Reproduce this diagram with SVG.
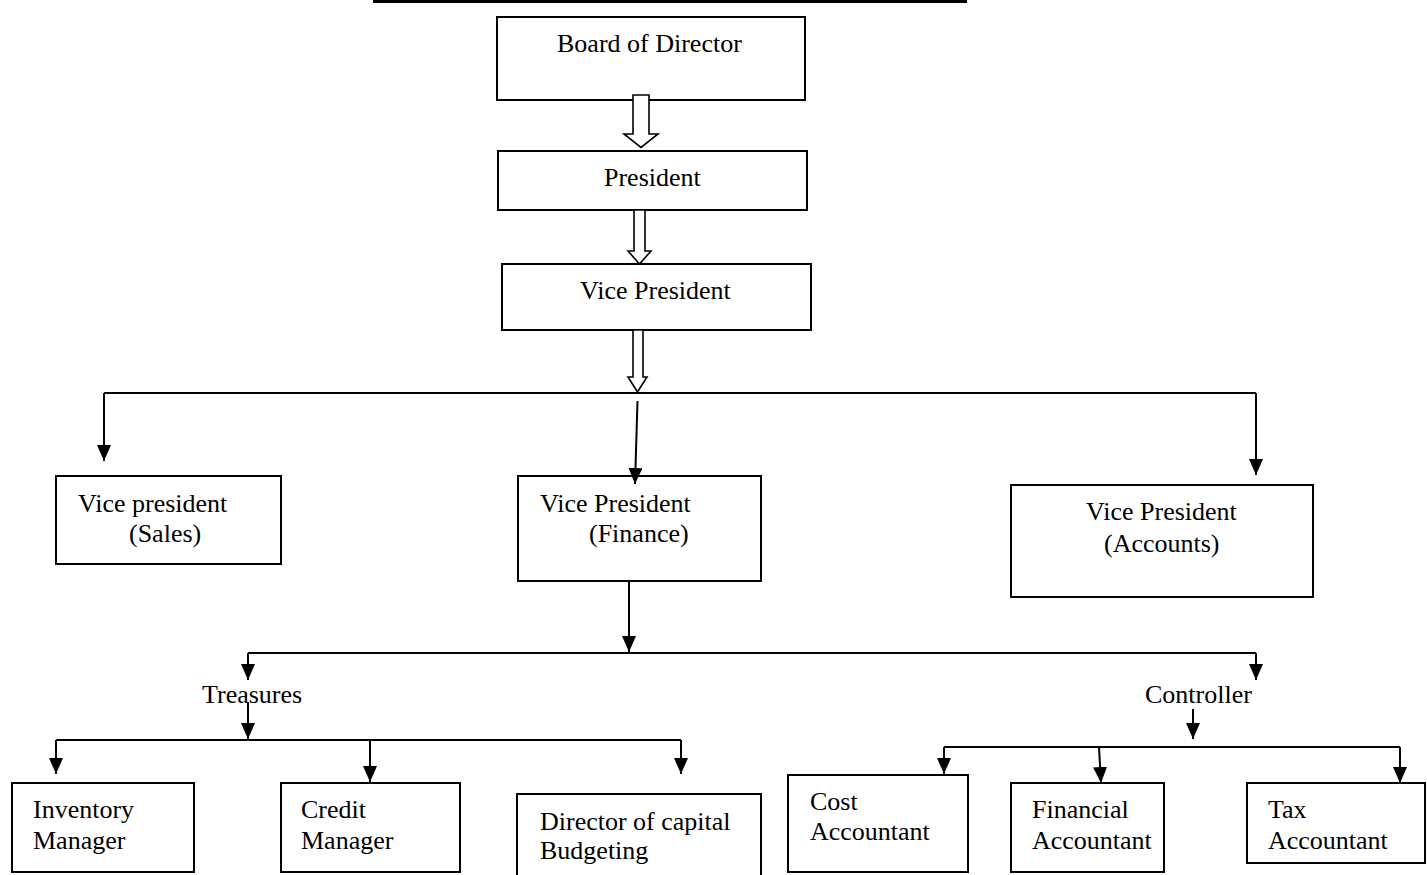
<svg xmlns="http://www.w3.org/2000/svg" width="1427" height="875" viewBox="0 0 1427 875">
<style>
.box{fill:#fff;stroke:#000;stroke-width:2}
.t{font-family:"Liberation Serif","Times New Roman",serif;font-size:26px;fill:#000}
.c{fill:none;stroke:#000;stroke-width:2}
.h{fill:#fff;stroke:#000;stroke-width:1.6;stroke-linejoin:miter}
</style>
<defs>
<marker id="ah" viewBox="0 0 16 14" markerWidth="16" markerHeight="14" refX="16" refY="7" orient="auto" markerUnits="userSpaceOnUse">
<path d="M0,0 L16,7 L0,14 Z" fill="#000"/>
</marker>
</defs>
<rect width="1427" height="875" fill="#fff"/>
<line x1="373" y1="1.5" x2="967" y2="1.5" stroke="#000" stroke-width="3"/>

<g id="board"><rect class="box" x="497" y="17" width="308" height="83"/><text class="t" x="557" y="52">Board of Director</text></g>
<g id="president"><rect class="box" x="498" y="151" width="309" height="59"/><text class="t" x="604" y="186">President</text></g>
<g id="vp"><rect class="box" x="502" y="264" width="309" height="66"/><text class="t" x="580" y="299">Vice President</text></g>
<g id="vp-sales"><rect class="box" x="56" y="476" width="225" height="88"/><text class="t" x="78" y="512">Vice president</text><text class="t" x="129" y="542">(Sales)</text></g>
<g id="vp-finance"><rect class="box" x="518" y="476" width="243" height="105"/><text class="t" x="540" y="512">Vice President</text><text class="t" x="589" y="542">(Finance)</text></g>
<g id="vp-accounts"><rect class="box" x="1011" y="485" width="302" height="112"/><text class="t" x="1086" y="520">Vice President</text><text class="t" x="1104" y="552">(Accounts)</text></g>
<g id="treasures"><text class="t" x="202" y="703">Treasures</text></g>
<g id="controller"><text class="t" x="1145" y="703">Controller</text></g>
<g id="inventory"><rect class="box" x="12" y="783" width="182" height="89"/><text class="t" x="33" y="818">Inventory</text><text class="t" x="33" y="849">Manager</text></g>
<g id="credit"><rect class="box" x="281" y="783" width="179" height="89"/><text class="t" x="301" y="818">Credit</text><text class="t" x="301" y="849">Manager</text></g>
<g id="director-capital"><path class="box" d="M517,877 L517,794 L761,794 L761,877"/><text class="t" x="540" y="830">Director of capital</text><text class="t" x="540" y="859">Budgeting</text></g>
<g id="cost"><rect class="box" x="788" y="775" width="180" height="97"/><text class="t" x="810" y="810">Cost</text><text class="t" x="810" y="840">Accountant</text></g>
<g id="financial"><rect class="box" x="1011" y="783" width="153" height="89"/><text class="t" x="1032" y="818">Financial</text><text class="t" x="1032" y="849">Accountant</text></g>
<g id="tax"><rect class="box" x="1247" y="783" width="178" height="80"/><text class="t" x="1268" y="818">Tax</text><text class="t" x="1268" y="849">Accountant</text></g>

<g id="connectors">
<path class="h" d="M633,95 L649,95 L649,134 L658,134 L641,147.5 L624,134 L633,134 Z"/>
<path class="h" d="M634,210 L645,210 L645,251 L651,251 L639.5,264 L628,251 L634,251 Z"/>
<path class="h" d="M633,330 L643,330 L643,377 L647,377 L637.5,392 L628,377 L633,377 Z"/>
<path class="c" d="M104,393 L1256,393"/>
<line class="c" x1="104" y1="393" x2="104" y2="461" marker-end="url(#ah)"/>
<line class="c" x1="1256" y1="393" x2="1256" y2="475" marker-end="url(#ah)"/>
<line class="c" x1="637.5" y1="401" x2="635" y2="484" marker-end="url(#ah)"/>
<line class="c" x1="629" y1="581" x2="629" y2="652" marker-end="url(#ah)"/>
<path class="c" d="M248,653 L1256,653"/>
<line class="c" x1="248" y1="653" x2="248" y2="680" marker-end="url(#ah)"/>
<line class="c" x1="1256" y1="653" x2="1256" y2="680" marker-end="url(#ah)"/>
<line class="c" x1="248" y1="702" x2="248" y2="739" marker-end="url(#ah)"/>
<line class="c" x1="1193" y1="709" x2="1193" y2="739" marker-end="url(#ah)"/>
<path class="c" d="M56,740 L681,740"/>
<line class="c" x1="56" y1="740" x2="56" y2="774" marker-end="url(#ah)"/>
<line class="c" x1="370" y1="740" x2="370" y2="782" marker-end="url(#ah)"/>
<line class="c" x1="681" y1="740" x2="681" y2="774" marker-end="url(#ah)"/>
<path class="c" d="M944,747 L1400,747"/>
<line class="c" x1="944" y1="747" x2="944" y2="774" marker-end="url(#ah)"/>
<line class="c" x1="1099" y1="747" x2="1101" y2="783" marker-end="url(#ah)"/>
<line class="c" x1="1400" y1="747" x2="1400" y2="783" marker-end="url(#ah)"/>
</g>
</svg>
